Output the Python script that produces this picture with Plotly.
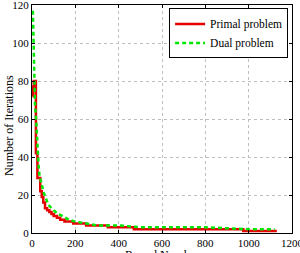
import plotly.graph_objects as go

# Primal problem (step curve)
primal_rounds = [2, 5, 8, 12, 18, 25, 30, 38, 45, 52, 60, 70, 80, 90, 100, 115, 130, 150, 170, 190, 220, 250, 300, 350, 420, 470, 600, 700, 800, 900, 975, 1000, 1100, 1130]
primal_iters = [72, 77, 80, 80, 42, 29, 29, 22, 19, 16, 13, 12, 11, 10, 9, 8, 7, 6, 6, 5, 5, 4, 4, 3, 3, 2, 2, 2, 2, 2, 1, 1, 1, 1]

# Dual problem (dashed curve)
dual_rounds = [4, 6, 8, 10, 14, 20, 25, 30, 35, 45, 55, 65, 75, 90, 100, 120, 140, 170, 200, 250, 300, 400, 500, 600, 800, 1000, 1120]
dual_iters = [117, 105, 95, 80, 68, 58, 45, 36, 30, 25, 21, 18, 15, 13, 12, 10, 9, 7, 6, 5, 4, 4, 3, 3, 3, 2, 2]

x_ticks = [0, 200, 400, 600, 800, 1000, 1200]
y_ticks = [0, 20, 40, 60, 80, 100, 120]

FONT = "'Liberation Serif', 'DejaVu Serif', serif"

fig = go.Figure()
fig.add_trace(go.Scatter(x=primal_rounds, y=primal_iters, mode="lines", name="Primal problem",
                         line=dict(color="rgb(230,0,0)", width=2.5, shape="hv")))
fig.add_trace(go.Scatter(x=dual_rounds, y=dual_iters, mode="lines", name="Dual problem",
                         line=dict(color="rgb(0,230,0)", width=2.5, dash="4px,3px")))

axis_common = dict(showline=True, linecolor="black", linewidth=1, mirror="ticks",
                   ticks="inside", ticklen=3, tickcolor="black",
                   showgrid=True, gridcolor="rgb(190,190,190)", griddash="dot", gridwidth=1,
                   zeroline=False, ticklabeloverflow="allow",
                   tickfont=dict(family=FONT, size=11, color="black"))

fig.update_layout(
    width=300, height=253,
    margin=dict(l=32, r=8, t=5, b=20),
    paper_bgcolor="white", plot_bgcolor="white",
    font=dict(family=FONT, color="black"),
    showlegend=True,
    legend=dict(x=0.985, y=0.985, xanchor="right", yanchor="top",
                bgcolor="white", bordercolor="black", borderwidth=1,
                font=dict(family=FONT, size=11.5, color="black"),
                tracegroupgap=0, itemwidth=30),
    xaxis=dict(range=[0, 1200], tickvals=x_ticks, automargin=False, **axis_common),
    yaxis=dict(range=[0, 120], tickvals=y_ticks, automargin=False, **axis_common),
    annotations=[
        dict(text="Round Number", xref="paper", yref="paper", x=0.5, y=-0.056,
             xanchor="center", yanchor="top", showarrow=False,
             font=dict(family=FONT, size=12, color="black")),
        dict(text="Number of Iterations", xref="paper", yref="paper", x=-0.088, y=0.47,
             xanchor="center", yanchor="middle", textangle=-90, showarrow=False,
             font=dict(family=FONT, size=12, color="black")),
    ],
)

fig.write_html("out.html")
